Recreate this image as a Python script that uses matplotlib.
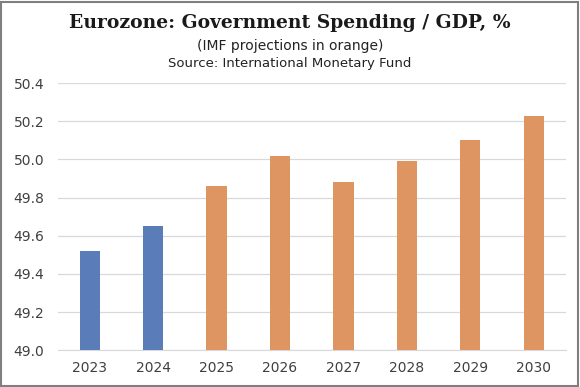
import matplotlib
matplotlib.use('Agg')

import matplotlib.pyplot as plt
from matplotlib.patches import Rectangle

# Data
years = ['2023', '2024', '2025', '2026', '2027', '2028', '2029', '2030']
spending = [49.52, 49.65, 49.86, 50.02, 49.88, 49.99, 50.10, 50.23]
is_projection = [False, False, True, True, True, True, True, True]

blue = '#5A7DB9'
orange = '#DF9562'
colors = [orange if p else blue for p in is_projection]

fig = plt.figure(figsize=(5.8, 3.87), dpi=100)
ax = fig.add_axes([0.10, 0.095, 0.875, 0.69])

x = range(len(years))
ax.bar(x, spending, width=0.32, color=colors, zorder=3)

ax.set_ylim(49.0, 50.4)
ax.set_xlim(-0.5, len(years) - 0.5)
ax.set_yticks([49.0, 49.2, 49.4, 49.6, 49.8, 50.0, 50.2, 50.4])
ax.set_yticklabels([f'{v:.1f}' for v in ax.get_yticks()])
ax.set_xticks(list(x))
ax.set_xticklabels(years)
ax.yaxis.grid(True, color='#D9D9D9', lw=0.9, zorder=0)
for s in ax.spines.values():
    s.set_visible(False)
ax.spines['bottom'].set_visible(True)
ax.spines['bottom'].set_color('#D9D9D9')
ax.tick_params(axis='both', length=0, labelsize=10, colors='#404040', pad=8)
ax.tick_params(axis='y', pad=10)

fig.text(0.5, 0.94, 'Eurozone: Government Spending / GDP, %', ha='center', va='center',
         fontsize=13.5, fontweight='bold', family='DejaVu Serif', color='#1a1a1a')
fig.text(0.5, 0.88, '(IMF projections in orange)', ha='center', va='center',
         fontsize=10, color='#222222')
fig.text(0.5, 0.837, 'Source: International Monetary Fund', ha='center', va='center',
         fontsize=9.5, color='#222222')

# Outer frame
fig.patches.append(Rectangle((0.002, 0.003), 0.995, 0.993, transform=fig.transFigure,
                             fill=False, edgecolor='#7F7F7F', lw=1.5))

plt.savefig('out.png', dpi=100)
